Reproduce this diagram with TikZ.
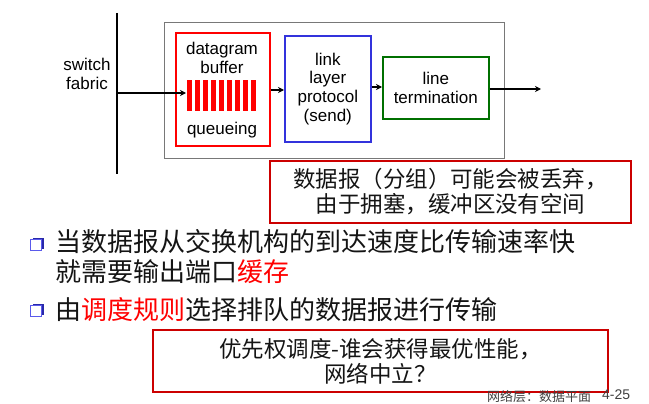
\documentclass[tikz,border=0pt]{standalone}
\usepackage{fontspec}
\setmainfont{Liberation Sans}
\newfontfamily\cjk{Noto Sans CJK SC}
\usetikzlibrary{arrows.meta,shadows}
\definecolor{boxred}{RGB}{255,0,0}
\definecolor{notered}{RGB}{204,0,0}
\definecolor{boxblue}{RGB}{51,51,220}
\definecolor{boxgreen}{RGB}{0,112,0}
\definecolor{boxgray}{RGB}{120,120,120}
\definecolor{bulletfront}{RGB}{90,90,235}
\definecolor{bulletback}{RGB}{40,40,170}
\definecolor{txt}{RGB}{20,20,20}
\begin{document}
\begin{tikzpicture}[x=1pt,y=-1pt,
  lbl/.style={font=\fontsize{17}{18.7}\selectfont, align=center, text=black, inner sep=0pt},
  unitbox/.style={draw, line width=1.6pt, inner sep=0pt, align=center, font=\fontsize{17}{18.7}\selectfont},
  notebox/.style={draw=notered, line width=1.6pt, inner sep=0pt, align=center, text=txt, font=\cjk\fontsize{22.5}{25}\selectfont},
  bullettext/.style={anchor=west, align=left, inner sep=0pt, text=txt, font=\cjk\fontsize{26}{30}\selectfont},
  bulletsq/.style={draw=bulletfront, fill=white, line width=1.2pt, minimum size=11pt, inner sep=0pt,
     drop shadow={shadow xshift=2pt, shadow yshift=2pt, fill=bulletback, opacity=1}},
  conn/.style={line width=1.6pt, -{Stealth[length=6pt,width=6pt]}},
  footer/.style={anchor=west, inner sep=0pt, text=black!75}
]
\useasboundingbox (0,0) rectangle (649,404);

% switch fabric
\draw[line width=1.6pt] (117,13) coordinate (ftop) -- (117,174) coordinate (fbot);
\coordinate (fab) at (117,93);
\node[lbl] (sf) at (87,74) {switch\\fabric};

% outer gray box
\node[draw=boxgray, line width=1.2pt, minimum width=340pt, minimum height=136pt, anchor=north west, inner sep=0pt] (outer) at (164,22) {};

% buffer box
\node[unitbox, draw=boxred, minimum width=94pt, minimum height=113pt, anchor=north west] (buf) at (175,32) {};
\node[lbl] (dg) at (222,58) {datagram\\buffer};
\node[lbl] (qu) at (222,130) {queueing};
\foreach \i in {0,...,8}{
  \fill[boxred] (187+8*\i,80) rectangle ++(5.4,31);
}
\coordinate (bufin) at (186,93);

% link layer box
\node[unitbox, draw=boxblue, minimum width=86pt, minimum height=106pt, anchor=north west] (llp) at (284,35) {link\\layer\\protocol\\(send)};

% line termination
\node[unitbox, draw=boxgreen, minimum width=106pt, minimum height=62pt, anchor=north west] (lt) at (382,56) {line\\termination};
\coordinate (out) at (541,89);

% connectors
\draw[conn] (fab) -- (bufin);
\draw[conn] (buf.east |- 0,90) -- (llp.west |- 0,90);
\draw[conn] (llp.east |- 0,87) -- (lt.west |- 0,87);
\draw[conn] (lt.east |- out) -- (out);

% note 1
\node[notebox, minimum width=361pt, minimum height=62pt] (note1) at (450.5,192) {数据报（分组）可能会被丢弃，\\由于拥塞，缓冲区没有空间};

% bullets
\node[bulletsq] (bq1) at (36,245) {};
\node[bullettext] (bt1) at (55,257) {当数据报从交换机构的到达速度比传输速率快\\就需要输出端口\textcolor{red}{缓存}};
\node[bulletsq] (bq2) at (36,311) {};
\node[bullettext] (bt2) at (55,310) {由\textcolor{red}{调度规则}选择排队的数据报进行传输};

% note 2
\node[notebox, minimum width=455pt, minimum height=62pt] (note2) at (380.5,361) {优先权调度-谁会获得最优性能，\\网络中立？};

% footer
\node[footer, font=\cjk\fontsize{13}{13}\selectfont] (ft1) at (487,397) {网络层：数据平面};
\node[footer, font=\fontsize{14}{14}\selectfont] (ft2) at (602,395) {4-25};
\end{tikzpicture}
\end{document}
